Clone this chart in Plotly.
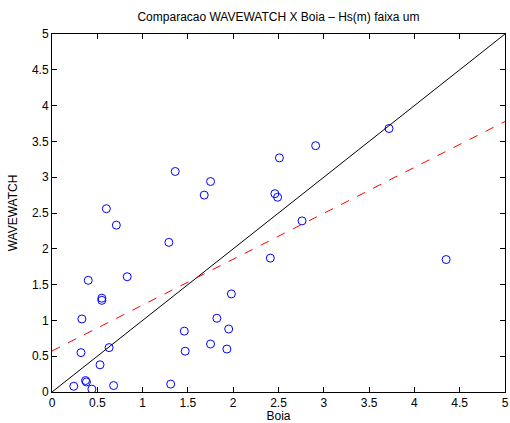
import plotly.graph_objects as go

boia = [3.72, 4.35, 2.91, 2.51, 2.46, 2.49, 2.76, 2.41,
        1.36, 1.75, 1.68, 1.29, 0.60, 0.71, 0.83, 0.40,
        0.55, 0.55, 0.33, 0.32, 0.63, 0.53, 0.37, 0.38,
        0.24, 0.44, 0.68, 1.31, 1.46, 1.47, 1.75, 1.82,
        1.95, 1.93, 1.98]
wavewatch = [3.68, 1.85, 3.44, 3.27, 2.77, 2.72, 2.39, 1.87,
             3.08, 2.94, 2.75, 2.09, 2.56, 2.33, 1.61, 1.56,
             1.31, 1.28, 1.02, 0.55, 0.62, 0.38, 0.16, 0.14,
             0.08, 0.04, 0.09, 0.11, 0.85, 0.57, 0.67, 1.03,
             0.88, 0.60, 1.37]

line_x = [0, 5]
identity_y = [0, 5]
fit_intercept = 0.573
fit_slope = 0.641
fit_y = [fit_intercept + fit_slope * v for v in line_x]
ticks = [0, 0.5, 1, 1.5, 2, 2.5, 3, 3.5, 4, 4.5, 5]
tick_text = ["0", "0.5", "1", "1.5", "2", "2.5", "3", "3.5", "4", "4.5", "5"]

fig = go.Figure()
fig.add_trace(go.Scatter(x=boia, y=wavewatch, mode="markers",
                         marker=dict(symbol="circle-open", size=8,
                                     color="#0000ff", line=dict(width=1, color="#0000ff")),
                         showlegend=False))
fig.add_trace(go.Scatter(x=line_x, y=identity_y, mode="lines",
                         line=dict(color="black", width=1), showlegend=False))
fig.add_trace(go.Scatter(x=line_x, y=fit_y, mode="lines",
                         line=dict(color="#ff0000", width=1, dash="dash"), showlegend=False))

axis_common = dict(range=[0, 5], tickvals=ticks, ticktext=tick_text,
                   ticks="inside", ticklen=5, tickcolor="black", tickwidth=1,
                   showline=True, linecolor="black", linewidth=1, mirror="ticks",
                   showgrid=False, zeroline=False, automargin=False,
                   tickfont=dict(family="Liberation Sans, Arial", size=12, color="black"))

fig.update_layout(
    width=510, height=423,
    margin=dict(l=52, r=5, t=34, b=31),
    paper_bgcolor="white", plot_bgcolor="white",
    font=dict(family="Liberation Sans, Arial", size=12, color="black"),
    title=dict(text="Comparacao WAVEWATCH X Boia \u2013 Hs(m) faixa um",
               x=(52 + 505) / 2 / 510, xanchor="center", y=1 - 17 / 423, yanchor="middle",
               font=dict(size=12, color="black")),
    xaxis=dict(**axis_common, title=dict(text="Boia", standoff=8,
                                         font=dict(size=12))),
    yaxis=dict(**axis_common, title=dict(text="WAVEWATCH", standoff=11,
                                         font=dict(size=12))),
)

fig.write_html("out.html")
